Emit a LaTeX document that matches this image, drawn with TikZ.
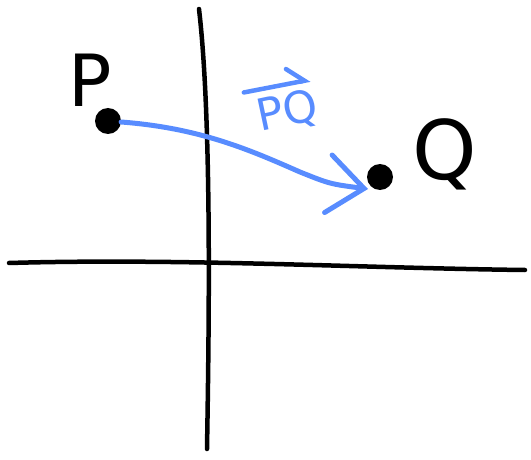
\documentclass[tikz,border=0pt]{standalone}
\usepackage{fontspec}
\setmainfont{DejaVu Sans}
\usetikzlibrary{arrows.meta,positioning}
\definecolor{penblue}{RGB}{88,140,255}
\tikzset{
  axis/.style  ={line width=4.5pt,line cap=round},
  pt/.style    ={circle,fill=black,inner sep=0pt,minimum size=26pt},
  vec/.style   ={penblue,line width=5pt,line cap=round,
                 -{Straight Barb[length=36pt,width=58pt,line cap=round]}},
  ptlbl/.style ={font=\fontsize{72}{72}\selectfont,inner sep=0pt},
  veclbl/.style={penblue,font=\fontsize{44}{44}\selectfont,inner sep=0pt},
  over/.style  ={penblue,line width=4.5pt,line cap=round,
                 -{Straight Barb[left,length=16pt,width=30pt,line cap=round]}},
}
\begin{document}
\begin{tikzpicture}[x=1pt,y=-1pt]
  \useasboundingbox (0,0) rectangle (531,460);
  % axes
  \coordinate (ytop) at (199,9);
  \coordinate (ybot) at (207,449);
  \coordinate (xl) at (9,263);
  \coordinate (xr) at (525,270);
  \draw[axis] (ytop) .. controls (212,120) and (209,330) .. (ybot);
  \draw[axis] (xl) .. controls (180,258) and (360,268) .. (xr);
  % points
  \node[pt] (P) at (108,121) {};
  \node[pt] (Q) at (380,177) {};
  \node[ptlbl] (Plbl) at (90,80) {P};
  \node[ptlbl,font=\fontsize{82}{82}\selectfont] (Qlbl) at (445,154) {Q};
  % the vector
  \draw[vec] (P) .. controls (200,128) and (250,150) .. (300,172)
    .. controls (330,184) .. (368,189);
  \node[veclbl,rotate=12] (PQ) at (288,112) {PQ};
  \draw[over] ([shift={(-10pt,7pt)}]PQ.north west) -- ([shift={(-4pt,7pt)}]PQ.north east);
\end{tikzpicture}
\end{document}
